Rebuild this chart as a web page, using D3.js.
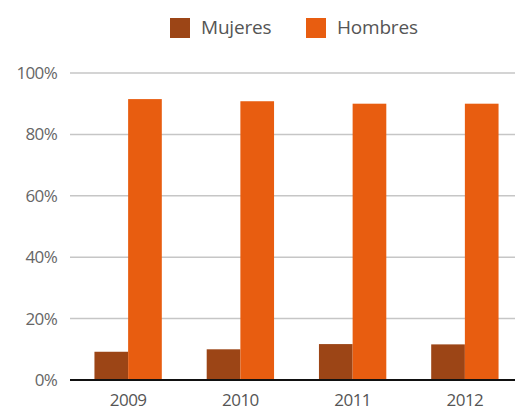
<!DOCTYPE html>
<html>
<head>
<meta charset="utf-8">
<script src="https://cdn.jsdelivr.net/npm/d3@7"></script>
<style>
  body { margin: 0; background: #fff; }
  svg { font-family: "Open Sans", sans-serif; }
</style>
</head>
<body>
<svg id="chart" width="515" height="410"></svg>
<script>
// data
var years = ["2009", "2010", "2011", "2012"];
var series = ["Mujeres", "Hombres"];
var mujeres = [9.2, 10.0, 11.7, 11.6];
var hombres = [91.5, 90.8, 90.0, 90.0];
var yTicks = [0, 20, 40, 60, 80, 100];
var colors = ["#9c4516", "#e85d10"];

var svg = d3.select("#chart");

var data = years.map(function (y, i) {
  return {year: y, values: [mujeres[i], hombres[i]]};
});

// scales
var x = d3.scaleBand()
  .domain(years)
  .range([72, 521])
  .paddingInner(0.4)
  .paddingOuter(0.2);

var xSub = d3.scaleBand()
  .domain(series)
  .range([0, x.bandwidth()]);

var y = d3.scaleLinear()
  .domain([0, 100])
  .range([380, 73]);

var color = d3.scaleOrdinal().domain(series).range(colors);

// gridlines
svg.append("g")
  .selectAll("line")
  .data(yTicks.filter(function (d) { return d > 0; }))
  .enter()
  .append("line")
    .attr("x1", 70)
    .attr("x2", 515)
    .attr("y1", function (d) { return y(d); })
    .attr("y2", function (d) { return y(d); })
    .attr("stroke", "#c6c6c6")
    .attr("stroke-width", 1.5);

// y axis labels
var yAxis = svg.append("g")
  .attr("transform", "translate(70,0)")
  .call(d3.axisLeft(y).tickValues(yTicks).tickSize(0).tickPadding(13)
    .tickFormat(function (d) { return d + "%"; }));
yAxis.select(".domain").remove();
yAxis.selectAll("text")
  .attr("font-size", 17)
  .attr("font-family", "Open Sans, sans-serif")
  .attr("letter-spacing", -0.7)
  .attr("fill", "#666");

// bars
svg.append("g")
  .selectAll("g")
  .data(data)
  .enter()
  .append("g")
    .attr("transform", function (d) { return "translate(" + x(d.year) + ",0)"; })
  .selectAll("rect")
  .data(function (d) { return d.values.map(function (v, i) { return {key: series[i], value: v}; }); })
  .enter()
  .append("rect")
    .attr("x", function (d) { return xSub(d.key); })
    .attr("width", xSub.bandwidth())
    .attr("y", function (d) { return y(d.value); })
    .attr("height", function (d) { return y(0) - y(d.value); })
    .attr("fill", function (d) { return color(d.key); });

// x axis
var xAxis = svg.append("g")
  .attr("transform", "translate(0,380)")
  .call(d3.axisBottom(x).tickSize(0).tickPadding(14));
xAxis.select(".domain").remove();
xAxis.selectAll("text")
  .attr("font-size", 17)
  .attr("font-family", "Open Sans, sans-serif")
  .attr("letter-spacing", -0.5)
  .attr("fill", "#555");

svg.append("line")
  .attr("x1", 70)
  .attr("x2", 515)
  .attr("y1", y(0))
  .attr("y2", y(0))
  .attr("stroke", "#111")
  .attr("stroke-width", 2);

// legend
var legendX = [170, 306];
var legend = svg.append("g")
  .selectAll("g")
  .data(series)
  .enter()
  .append("g")
    .attr("transform", function (d, i) { return "translate(" + legendX[i] + ",18)"; });
legend.append("rect")
  .attr("width", 20)
  .attr("height", 20)
  .attr("fill", function (d) { return color(d); });
legend.append("text")
  .attr("x", 31)
  .attr("y", 16)
  .attr("font-size", 19)
  .attr("letter-spacing", -0.2)
  .attr("fill", "#555")
  .text(function (d) { return d; });
</script>
</body>
</html>
